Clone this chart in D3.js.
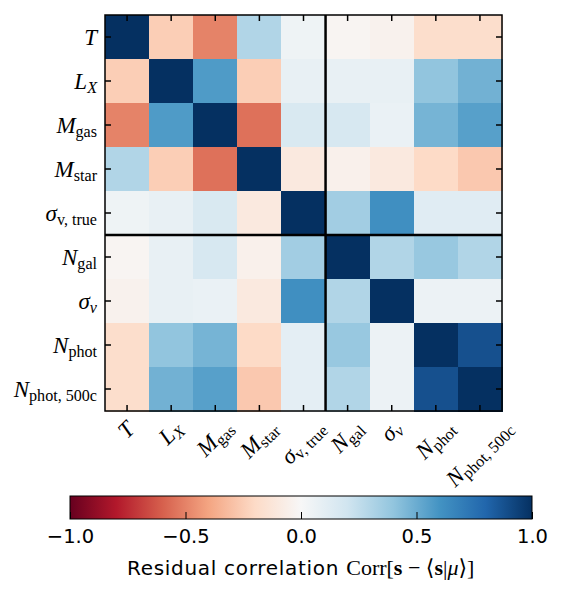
<!DOCTYPE html>
<html>
<head>
<meta charset="utf-8">
<script src="https://cdn.jsdelivr.net/npm/d3@7"></script>
<style>
  body { margin: 0; background: #fff; }
  svg { display: block; }
</style>
</head>
<body>
<svg id="chart" width="568" height="598"></svg>
<script>
// quantities, in plotting order
const names = ['T', 'LX', 'Mgas', 'Mstar', 'sigTrue', 'Ngal', 'sigV', 'Nphot', 'Nphot500'];

// tick labels: [text, kind] where kind = i (italic), s (subscript), si (italic subscript)
const tickLabels = [
  [['T', 'i']],
  [['L', 'i'], ['X', 'si']],
  [['M', 'i'], ['gas', 's']],
  [['M', 'i'], ['star', 's']],
  [['σ', 'i'], ['v, true', 's']],
  [['N', 'i'], ['gal', 's']],
  [['σ', 'i'], ['v', 'si']],
  [['N', 'i'], ['phot', 's']],
  [['N', 'i'], ['phot, 500c', 's']]
];

// residual correlation matrix, row by row
const rowT        = [1.00, -0.25, -0.50,  0.30,  0.05, -0.02, -0.04, -0.18, -0.18];
const rowLX       = [-0.25, 1.00,  0.57, -0.25,  0.08,  0.08,  0.08,  0.40,  0.48];
const rowMgas     = [-0.50, 0.57,  1.00, -0.55,  0.16,  0.17,  0.07,  0.47,  0.55];
const rowMstar    = [0.30, -0.25, -0.55,  1.00, -0.10, -0.05, -0.10, -0.20, -0.27];
const rowSigTrue  = [0.05,  0.08,  0.16, -0.10,  1.00,  0.35,  0.62,  0.12,  0.12];
const rowNgal     = [-0.02, 0.08,  0.17, -0.05,  0.35,  1.00,  0.30,  0.38,  0.30];
const rowSigV     = [-0.04, 0.08,  0.07, -0.10,  0.62,  0.30,  1.00,  0.06,  0.06];
const rowNphot    = [-0.18, 0.40,  0.47, -0.20,  0.10,  0.38,  0.06,  1.00,  0.88];
const rowNphot500 = [-0.18, 0.48,  0.55, -0.27,  0.10,  0.30,  0.06,  0.88,  1.00];
const corr = [rowT, rowLX, rowMgas, rowMstar, rowSigTrue, rowNgal, rowSigV, rowNphot, rowNphot500];

// colour bar
const cbTicks = [-1, -0.5, 0, 0.5, 1];
const rdbu = ['#67001f', '#b2182b', '#d6604d', '#f4a582', '#fddbc7', '#f7f7f7',
  '#d1e5f0', '#92c5de', '#4393c3', '#2166ac', '#053061'];

const svg = d3.select('#chart');
const serif = "'Liberation Serif', 'DejaVu Serif', serif";
const sans = "'DejaVu Sans', sans-serif";
const fs = 23;

const x = d3.scaleBand().domain(names).range([105, 502]);
const y = d3.scaleBand().domain(names).range([15, 411]);
const color = d3.scaleLinear()
  .domain(d3.range(rdbu.length).map((i) => -1 + 2 * i / (rdbu.length - 1)))
  .range(rdbu)
  .clamp(true);

const cells = [];
corr.forEach((row, i) => {
  row.forEach((v, j) => cells.push({r: names[i], c: names[j], v: v}));
});

svg.append('g')
  .selectAll('rect')
  .data(cells)
  .enter().append('rect')
    .attr('x', (d) => x(d.c))
    .attr('y', (d) => y(d.r))
    .attr('width', x.bandwidth() + 0.5)
    .attr('height', y.bandwidth() + 0.5)
    .attr('fill', (d) => color(d.v))
    .attr('shape-rendering', 'crispEdges');

// divider between the true and observed properties
const split = names[5];
svg.append('line')
  .attr('x1', x(split)).attr('x2', x(split))
  .attr('y1', y.range()[0]).attr('y2', y.range()[1])
  .attr('stroke', '#000').attr('stroke-width', 2.5);
svg.append('line')
  .attr('x1', x.range()[0]).attr('x2', x.range()[1])
  .attr('y1', y(split)).attr('y2', y(split))
  .attr('stroke', '#000').attr('stroke-width', 2.5);

// inward ticks on all four sides
const tickLen = -6;
const axes = [
  [d3.axisLeft(y), `translate(${x.range()[0]},0)`],
  [d3.axisRight(y), `translate(${x.range()[1]},0)`],
  [d3.axisTop(x), `translate(0,${y.range()[0]})`],
  [d3.axisBottom(x), `translate(0,${y.range()[1]})`]
];
axes.forEach(([ax, tr]) => {
  const g = svg.append('g').attr('transform', tr)
    .call(ax.tickSize(tickLen).tickFormat(''));
  g.select('.domain').remove();
  g.selectAll('line').attr('stroke', '#000').attr('stroke-width', 1.5);
});

svg.append('rect')
  .attr('x', x.range()[0]).attr('y', y.range()[0])
  .attr('width', x.range()[1] - x.range()[0])
  .attr('height', y.range()[1] - y.range()[0])
  .attr('fill', 'none').attr('stroke', '#000').attr('stroke-width', 1.5);

function writeLabel(text, parts) {
  let subbed = false;
  parts.forEach(([t, kind]) => {
    const ts = text.append('tspan').text(t);
    if (kind.includes('i')) ts.attr('font-style', 'italic');
    if (kind.includes('s')) {
      ts.style('font-size', `${fs * 0.7}px`);
      if (!subbed) ts.attr('dy', '0.22em');
      subbed = true;
    }
  });
}

// left labels
tickLabels.forEach((parts, i) => {
  const t = svg.append('text')
    .attr('x', 97)
    .attr('y', y(names[i]) + y.bandwidth() / 2 + 8)
    .attr('text-anchor', 'end')
    .style('font-family', serif)
    .style('font-size', `${fs}px`);
  writeLabel(t, parts);
});

// bottom labels, rotated 45 degrees, centred under the tick
const labelTop = 415;
tickLabels.forEach((parts, i) => {
  const t = svg.append('text')
    .attr('text-anchor', 'middle')
    .style('font-family', serif)
    .style('font-size', `${fs}px`);
  writeLabel(t, parts);
  const b = t.node().getBBox();
  const cx = b.x + b.width / 2;
  const cy = b.y + b.height / 2;
  const h = (b.width + b.height) / Math.SQRT2;
  const xc = x(names[i]) + x.bandwidth() / 2;
  t.attr('transform', `translate(${xc},${labelTop + h / 2}) rotate(-45) translate(${-cx},${-cy})`);
});

// colour bar
const cbx = d3.scaleLinear().domain([-1, 1]).range([70, 532]);
const cbTop = 496, cbH = 23;
const grad = svg.append('defs').append('linearGradient')
  .attr('id', 'cbgrad').attr('x1', '0%').attr('x2', '100%');
grad.selectAll('stop')
  .data(color.domain())
  .enter().append('stop')
    .attr('offset', (d) => `${(cbx(d) - cbx.range()[0]) / (cbx.range()[1] - cbx.range()[0]) * 100}%`)
    .attr('stop-color', (d) => color(d));

svg.append('rect')
  .attr('x', cbx.range()[0]).attr('y', cbTop)
  .attr('width', cbx.range()[1] - cbx.range()[0]).attr('height', cbH)
  .attr('fill', 'url(#cbgrad)')
  .attr('stroke', '#000').attr('stroke-width', 1);

const cbAxis = svg.append('g')
  .attr('transform', `translate(0,${cbTop + cbH})`)
  .call(d3.axisBottom(cbx).tickValues(cbTicks).tickSize(-7).tickPadding(10.5)
    .tickFormat(d3.format('.1f')));
cbAxis.select('.domain').remove();
cbAxis.selectAll('line').attr('stroke', '#000').attr('stroke-width', 1);
cbAxis.selectAll('text')
  .attr('fill', '#000')
  .style('font-family', sans)
  .style('font-size', '19.5px');

// colour bar label
const lab = svg.append('text')
  .attr('x', 127).attr('y', 575)
  .style('font-size', '20px')
  .style('font-family', sans);
lab.append('tspan').style('letter-spacing', '0.7px').text('Residual correlation ');
const m = lab.append('tspan').style('font-family', serif).style('font-size', '22px');
m.append('tspan').text('Corr');
m.append('tspan').text('[');
m.append('tspan').attr('font-weight', 'bold').text('s');
m.append('tspan').text(' − ⟨');
m.append('tspan').attr('font-weight', 'bold').text('s');
m.append('tspan').text('|');
m.append('tspan').attr('font-style', 'italic').text('μ');
m.append('tspan').text('⟩]');
</script>
</body>
</html>
